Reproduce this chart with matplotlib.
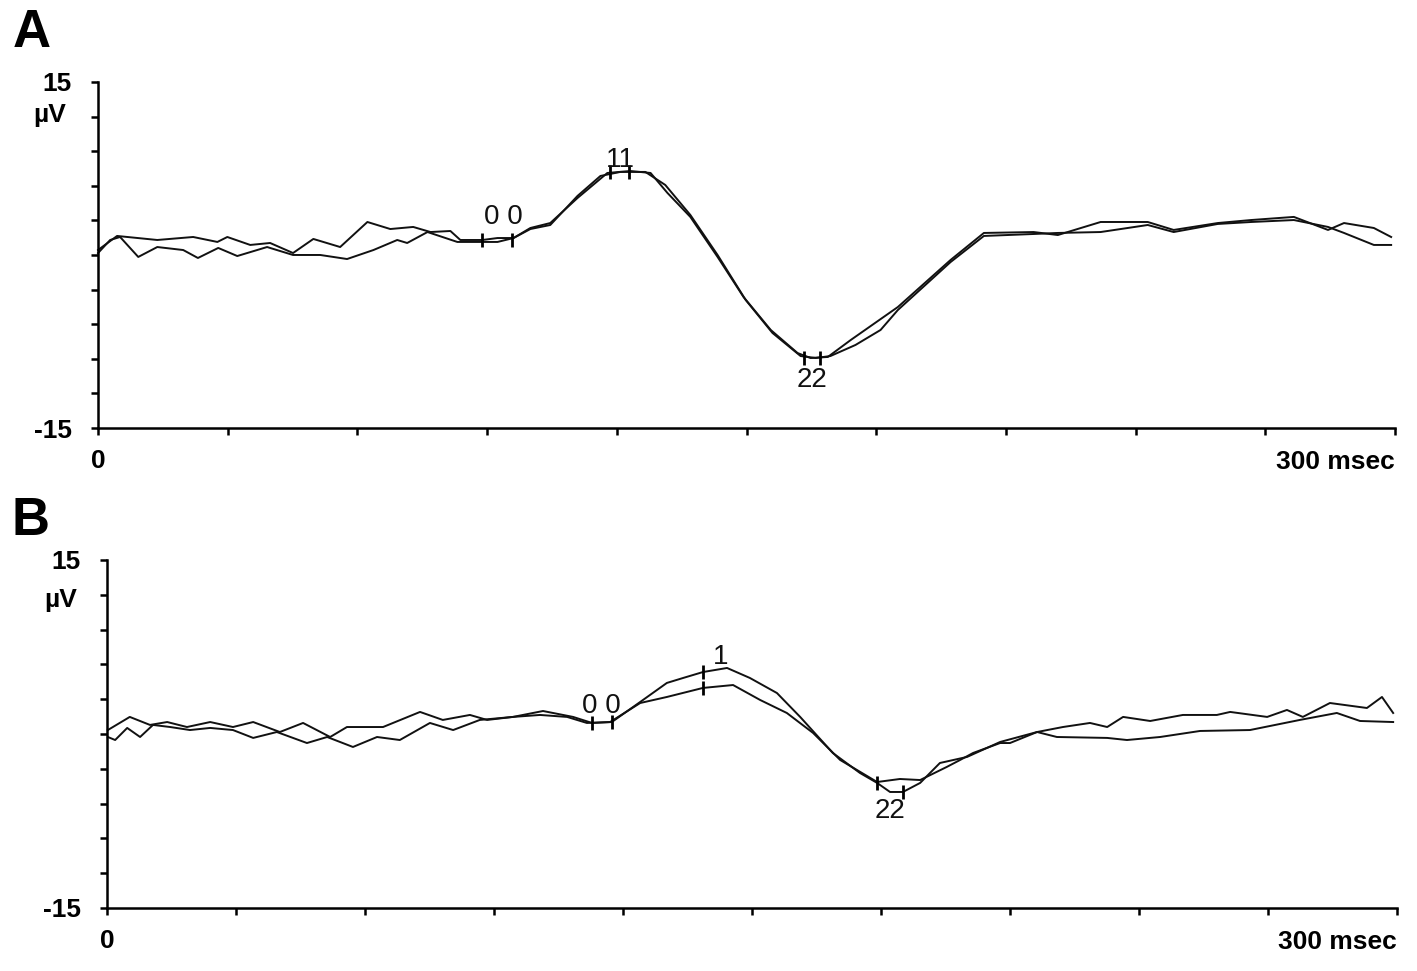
import matplotlib
matplotlib.use("Agg")
import matplotlib.pyplot as plt
import numpy as np

plt.rcParams['font.family'] = ['Liberation Sans', 'DejaVu Sans']

# ---- Panel A: two superimposed recordings (time in msec, amplitude in uV)
a1_t = [0.0, 4.4, 13.7, 22.0, 27.6, 29.9, 35.2, 39.8, 45.1, 49.8, 56.0, 62.3, 67.6,
        72.9, 76.9, 81.5, 83.8, 88.9, 92.4, 96.1, 100.0, 104.6, 110.9, 117.8, 123.1,
        127.8, 131.7, 137.0, 143.3, 149.3, 155.6, 161.8, 164.8, 168.8, 174.1, 185.0,
        197.2, 204.9, 216.4, 222.0, 231.9, 242.8, 248.8, 259.0, 266.7, 276.6, 284.5,
        288.2, 295.1, 299.1]
a1_v = [0.43, 1.65, 1.30, 1.56, 1.13, 1.56, 0.87, 1.04, 0.17, 1.39, 0.69, 2.86, 2.25,
        2.43, 1.99, 2.08, 1.30, 1.30, 1.47, 1.47, 2.34, 2.77, 4.94, 7.11, 7.28,
        7.11, 5.38, 3.30, -0.17, -3.64, -6.50, -8.50, -8.93, -8.84, -7.37, -4.51,
        -0.43, 1.91, 1.99, 1.73, 2.86, 2.86, 2.17, 2.77, 3.03, 3.30, 2.17,
        2.77, 2.34, 1.56]

a2_t = [0.0, 2.8, 5.1, 9.3, 13.7, 19.7, 23.1, 27.8, 32.2, 39.1, 45.1, 51.4, 57.6,
        63.7, 69.2, 71.5, 76.2, 83.1, 88.9, 92.4, 96.1, 100.0, 104.6, 110.9, 116.2,
        120.8, 126.6, 131.2, 137.0, 143.3, 149.8, 156.0, 162.5, 166.0, 169.4, 175.2,
        181.0, 185.0, 197.2, 204.9, 216.4, 222.0, 231.9, 242.8, 248.8, 259.0, 266.7,
        276.6, 284.5, 288.2, 295.1, 299.1]
a2_v = [0.17, 1.30, 1.56, -0.17, 0.69, 0.43, -0.26, 0.61, -0.09, 0.69, 0.0, 0.0, -0.35,
        0.43, 1.30, 1.04, 1.99, 1.13, 1.13, 1.13, 1.47, 2.25, 2.60, 5.12, 6.85,
        7.20, 7.20, 6.07, 3.47, 0.0, -3.90, -6.76, -8.76, -8.93, -8.76, -7.80,
        -6.50, -4.77, -0.61, 1.65, 1.82, 1.91, 1.99, 2.60, 1.99, 2.69, 2.86,
        3.03, 2.43, 1.91, 0.87, 0.87]

# peak markers in A: (time, amplitude)
a_mark_t = [88.9, 95.8, 118.5, 122.7, 163.2, 167.1]
a_mark_v = [1.3, 1.3, 7.2, 7.2, -8.9, -8.9]
# peak labels in A
a_lab = ['0 0', '11', '22']
a_lab_t = [93.8, 120.8, 165.2]
a_lab_v = [3.3, 8.2, -10.8]

# ---- Panel B
b1_t = [0.2, 5.3, 10.0, 14.0, 18.6, 24.0, 29.3, 34.0, 40.2, 45.6, 51.9, 55.8, 64.2,
        72.8, 78.1, 84.4, 88.4, 94.4, 101.4, 108.4, 112.8, 117.4, 124.0, 130.2, 134.0,
        138.6, 144.2, 149.5, 155.8, 161.2, 168.8, 175.1, 179.1, 182.1, 185.1, 189.1,
        193.7, 200.0, 207.7, 216.3, 222.3, 228.6, 232.6, 236.3, 242.6, 250.2, 258.1,
        261.2, 269.8, 274.4, 278.1, 284.4, 293.0, 296.5, 299.1]
b1_v = [0.34, 1.47, 0.78, 1.03, 0.60, 1.03, 0.60, 1.03, 0.17, 0.95, -0.26, 0.60, 0.60,
        1.90, 1.21, 1.64, 1.21, 1.47, 1.98, 1.47, 0.95, 1.03, 2.76, 4.40, 4.83,
        5.34, 5.69, 4.83, 3.53, 1.47, -1.64, -3.36, -4.22, -5.00, -5.00, -4.22,
        -2.50, -1.98, -0.69, 0.17, 0.60, 0.95, 0.60, 1.47, 1.12, 1.64, 1.64,
        1.90, 1.47, 2.07, 1.47, 2.67, 2.24, 3.19, 1.81]

b2_t = [0.2, 1.9, 4.7, 7.7, 10.7, 14.7, 19.3, 24.0, 29.3, 34.0, 39.5, 46.5, 51.2,
        57.2, 62.8, 68.1, 75.1, 80.5, 86.7, 94.4, 100.7, 107.0, 111.6, 117.0, 124.0,
        130.2, 138.6, 145.6, 151.9, 158.1, 164.2, 170.5, 179.1, 184.4, 189.1, 195.3,
        198.4, 201.4, 207.7, 210.0, 216.3, 220.9, 232.6, 237.2, 244.9, 254.2, 265.8,
        277.4, 286.0, 291.4, 299.1]
b2_v = [-0.26, -0.52, 0.52, -0.26, 0.78, 0.60, 0.34, 0.52, 0.34, -0.34, 0.17, -0.78, -0.26,
        -1.12, -0.26, -0.52, 0.95, 0.34, 1.21, 1.47, 1.64, 1.47, 0.95, 1.03, 2.67,
        3.19, 3.97, 4.22, 2.93, 1.81, 0.09, -2.24, -4.14, -3.88, -3.97, -2.84,
        -2.24, -1.64, -0.78, -0.78, 0.17, -0.26, -0.34, -0.52, -0.26, 0.26, 0.34,
        1.21, 1.81, 1.12, 1.03]

b_mark_t = [112.8, 117.4, 138.6, 138.6, 179.1, 185.1]
b_mark_v = [0.95, 1.0, 5.34, 3.97, -4.2, -5.0]
b_lab = ['0 0', '1', '22']
b_lab_t = [115.0, 142.6, 182.1]
b_lab_v = [2.4, 6.6, -6.6]

y_ticks = np.arange(-15, 16, 3)
x_ticks = np.arange(0, 301, 30)


def draw_panel(ax, traces, mark_t, mark_v, labels, lab_t, lab_v, letter, letter_xy, uv_xy):
    for t, v in traces:
        ax.plot(t, v, color='#111111', linewidth=1.4, clip_on=False,
                solid_joinstyle='round')
    ax.plot(mark_t, mark_v, linestyle='none', marker='|', markersize=10,
            markeredgewidth=2.0, color='black')
    for s, t, v in zip(labels, lab_t, lab_v):
        ax.text(t, v, s, ha='center', va='center', fontsize=20, color='#111111')

    ax.set_xlim(0, 300)
    ax.set_ylim(-15, 15)
    for side in ['top', 'right']:
        ax.spines[side].set_visible(False)
    for side in ['left', 'bottom']:
        ax.spines[side].set_linewidth(1.8)

    ax.set_yticks(y_ticks)
    ax.set_yticklabels(['-15'] + [''] * (len(y_ticks) - 2) + ['15'])
    ax.set_xticks(x_ticks)
    ax.set_xticklabels(['0'] + [''] * (len(x_ticks) - 1))
    ax.tick_params(axis='both', direction='out', length=5, width=1.8,
                   labelsize=19)
    for lbl in ax.get_xticklabels() + ax.get_yticklabels():
        lbl.set_fontweight('bold')
    ax.tick_params(axis='y', pad=14)
    ax.tick_params(axis='x', pad=10)

    ax.text(uv_xy[0], uv_xy[1], 'µV', transform=ax.transAxes, ha='center',
            va='center', fontsize=19, fontweight='bold')
    ax.text(1.0, -0.097, '300 msec', transform=ax.transAxes, ha='right',
            va='center', fontsize=19, fontweight='bold')
    ax.text(letter_xy[0], letter_xy[1], letter, transform=ax.transAxes, ha='left',
            va='center', fontsize=38, fontweight='bold')


fig = plt.figure(figsize=(14.17, 9.71), dpi=100)
ax_a = fig.add_axes([0.0692, 0.5592, 0.9153, 0.3564])
ax_b = fig.add_axes([0.0755, 0.0649, 0.9104, 0.3584])

draw_panel(ax_a, [(a1_t, a1_v), (a2_t, a2_v)], a_mark_t, a_mark_v,
           a_lab, a_lab_t, a_lab_v, 'A', (-0.066, 1.142), (-0.037, 0.905))
draw_panel(ax_b, [(b1_t, b1_v), (b2_t, b2_v)], b_mark_t, b_mark_v,
           b_lab, b_lab_t, b_lab_v, 'B', (-0.074, 1.112), (-0.036, 0.885))

fig.savefig('out.png', dpi=100)
